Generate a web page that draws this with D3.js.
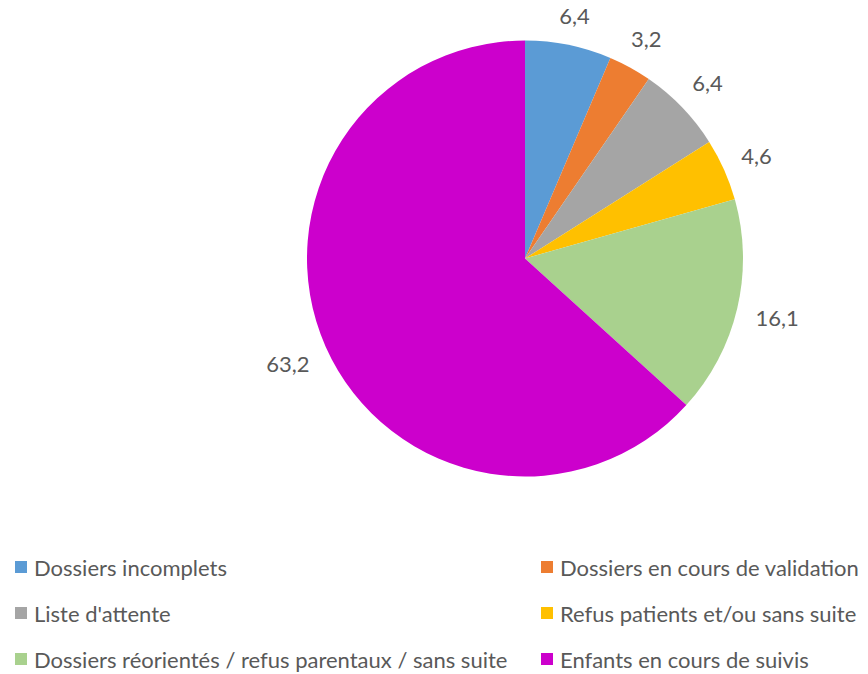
<!DOCTYPE html>
<html>
<head>
<meta charset="utf-8">
<script src="https://cdn.jsdelivr.net/npm/d3@7"></script>
<style>
    body { margin: 0; background: #fff; }
    svg { display: block; font-family: Lato, "Open Sans", sans-serif; }
</style>
</head>
<body>
<div id="chart"></div>
<script>
// Chart data
const categories = [
    "Dossiers incomplets",
    "Dossiers en cours de validation",
    "Liste d'attente",
    "Refus patients et/ou sans suite",
    "Dossiers réorientés / refus parentaux / sans suite",
    "Enfants en cours de suivis"
];
const values = [6.4, 3.2, 6.4, 4.6, 16.1, 63.2];
const colors = ["#5B9BD5", "#ED7D31", "#A5A5A5", "#FFC000", "#A9D18E", "#CC00CC"];

const config = {
    width: 868,
    height: 674,
    cx: 525,
    cy: 258.5,
    radius: 218,
    labelGap: 18,
    fontSize: 22,
    textColor: "#595959"
};

const svg = d3.select("#chart").append("svg")
    .attr("width", config.width)
    .attr("height", config.height);

const pie = d3.pie().sort(null).value(d => d.value);
const arc = d3.arc().innerRadius(0).outerRadius(config.radius);

const data = categories.map((c, i) => ({ name: c, value: values[i], color: colors[i] }));
const arcs = pie(data);

const g = svg.append("g")
    .attr("transform", `translate(${config.cx},${config.cy})`);

g.selectAll("path")
    .data(arcs)
    .join("path")
    .attr("d", arc)
    .attr("fill", d => d.data.color);

// Data labels, pushed outside the slice so the nearest box edge sits labelGap away
const fmt = v => String(v).replace(".", ",");
g.selectAll("text.lbl")
    .data(arcs)
    .join("text")
    .attr("class", "lbl")
    .attr("font-size", config.fontSize)
    .attr("fill", config.textColor)
    .attr("text-anchor", "middle")
    .attr("dominant-baseline", "central")
    .text(d => fmt(d.data.value))
    .each(function (d) {
        const a = (d.startAngle + d.endAngle) / 2;
        const s = Math.sin(a), c = -Math.cos(a);
        const box = this.getBBox();
        const ext = box.width / 2 * Math.abs(s) + 9 * Math.abs(c);
        const r = config.radius + config.labelGap + ext;
        d3.select(this).attr("x", r * s).attr("y", r * c);
    });

// Legend, two columns
const legendCols = [15, 541];
const legendRows = [567, 613, 659];
const legend = svg.append("g").attr("font-size", config.fontSize);

const items = legend.selectAll("g")
    .data(data)
    .join("g")
    .attr("transform", (d, i) => `translate(${legendCols[i % 2]},${legendRows[Math.floor(i / 2)]})`);

items.append("rect")
    .attr("x", 0)
    .attr("y", -6)
    .attr("width", 12)
    .attr("height", 12)
    .attr("fill", d => d.color);

items.append("text")
    .attr("x", 19)
    .attr("dominant-baseline", "central")
    .attr("fill", config.textColor)
    .text(d => d.name);
</script>
</body>
</html>
